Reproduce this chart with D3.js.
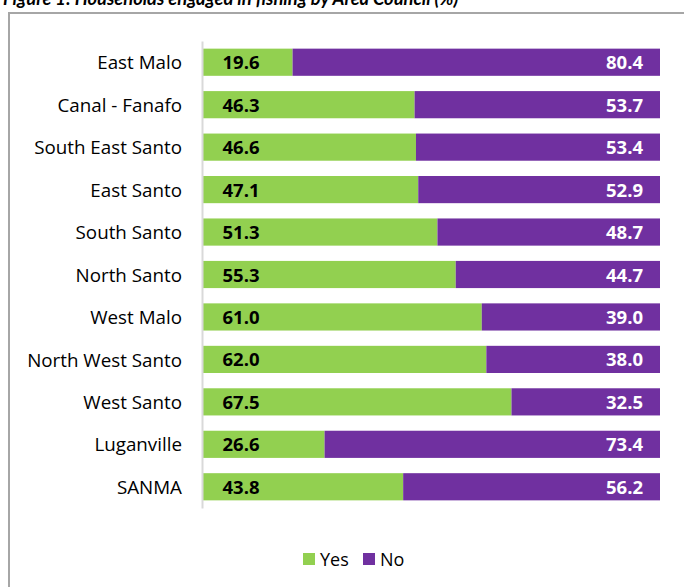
<!DOCTYPE html>
<html>
<head>
<meta charset="utf-8">
<script src="https://cdn.jsdelivr.net/npm/d3@7"></script>
<style>
  html, body { margin: 0; padding: 0; background: #fff; }
  svg { display: block; }
</style>
</head>
<body>
<svg id="chart" width="684" height="587"></svg>
<script>
// Households engaged in fishing by Area Council (%)
const categories = ["East Malo", "Canal - Fanafo", "South East Santo", "East Santo", "South Santo",
  "North Santo", "West Malo", "North West Santo", "West Santo", "Luganville", "SANMA"];
const yesValues = [19.6, 46.3, 46.6, 47.1, 51.3, 55.3, 61.0, 62.0, 67.5, 26.6, 43.8];
const noValues  = [80.4, 53.7, 53.4, 52.9, 48.7, 44.7, 39.0, 38.0, 32.5, 73.4, 56.2];
const seriesNames = ["Yes", "No"];
const colors = { Yes: "#92D050", No: "#7030A0" };

const font = "'Open Sans', 'Noto Sans', sans-serif";
const titleFont = "Lato, 'Open Sans', sans-serif";
const svg = d3.select("#chart");

// Title (sits partly above the frame)
svg.append("text")
  .attr("x", 3).attr("y", 5)
  .attr("font-family", titleFont).attr("font-size", 18.3)
  .attr("font-weight", "bold").attr("font-style", "italic")
  .attr("fill", "#000")
  .text("Figure 1: Households engaged in fishing by Area Council (%)");

// Chart frame
svg.append("rect")
  .attr("x", 9).attr("y", 13)
  .attr("width", 700).attr("height", 600)
  .attr("fill", "none").attr("stroke", "#a6a6a6").attr("stroke-width", 2);

const x = d3.scaleLinear().domain([0, 100]).range([203, 660]);
const y = d3.scaleBand().domain(categories).range([41, 508]).paddingInner(0.36).paddingOuter(0.18);

const rows = categories.map((c, i) => ({ cat: c, Yes: yesValues[i], No: noValues[i] }));
const stacked = d3.stack().keys(seriesNames)(rows);

svg.append("g").selectAll("g")
  .data(stacked)
  .join("g")
  .attr("fill", d => colors[d.key])
  .selectAll("rect")
  .data(d => d)
  .join("rect")
  .attr("x", d => x(d[0]))
  .attr("y", d => y(d.data.cat))
  .attr("width", d => x(d[1]) - x(d[0]))
  .attr("height", y.bandwidth());

// Category axis
const yAxis = svg.append("g")
  .attr("transform", "translate(202,0)")
  .call(d3.axisLeft(y).tickSize(0).tickPadding(20));
yAxis.select(".domain").attr("stroke", "#d9d9d9").attr("stroke-width", 2);
yAxis.selectAll("text")
  .attr("dy", "0.38em")
  .attr("font-family", font).attr("font-size", 18.8).attr("fill", "#000");

// Value labels
svg.append("g").selectAll("text")
  .data(rows)
  .join("text")
  .attr("x", 222.5)
  .attr("y", d => y(d.cat) + y.bandwidth() / 2)
  .attr("dy", "0.38em")
  .attr("font-family", font).attr("font-size", 18.5).attr("font-weight", "bold")
  .attr("fill", "#000")
  .text(d => d.Yes.toFixed(1));

svg.append("g").selectAll("text")
  .data(rows)
  .join("text")
  .attr("x", x(100) - 17)
  .attr("y", d => y(d.cat) + y.bandwidth() / 2)
  .attr("dy", "0.38em")
  .attr("text-anchor", "end")
  .attr("font-family", font).attr("font-size", 18.5).attr("font-weight", "bold")
  .attr("fill", "#fff")
  .text(d => d.No.toFixed(1));

// Legend
const legend = svg.append("g").attr("transform", "translate(303,553)");
const legendX = [0, 60];
seriesNames.forEach((s, i) => {
  const g = legend.append("g").attr("transform", `translate(${legendX[i]},0)`);
  g.append("rect").attr("width", 12).attr("height", 12).attr("fill", colors[s]);
  g.append("text").attr("x", 17).attr("y", 6).attr("dy", "0.38em")
    .attr("font-family", font).attr("font-size", 18).attr("fill", "#000").text(s);
});
</script>
</body>
</html>
